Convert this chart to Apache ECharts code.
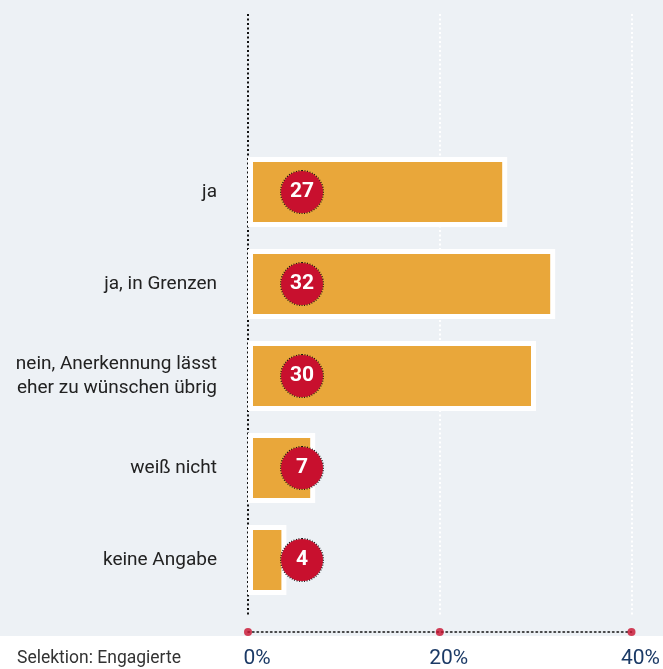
<!DOCTYPE html>
<html>
<head>
<meta charset="utf-8">
<script src="https://cdn.jsdelivr.net/npm/echarts@6/dist/echarts.min.js"></script>
<style>
  html, body { margin: 0; padding: 0; background: #ffffff; }
  #chart { width: 663px; height: 669px; }
</style>
</head>
<body>
<div id="chart"></div>
<script>
// Answer categories, shares in percent and axis ticks
const categories = [
  'ja',
  'ja, in Grenzen',
  'nein, Anerkennung lässt\neher zu wünschen übrig',
  'weiß nicht',
  'keine Angabe'
];
const values = [27, 32, 30, 7, 4];
const tickValues = [0, 20, 40];
const tickLabels = ['0%', '20%', '40%'];
const footnote = 'Selektion: Engagierte';

const FONT = "Roboto, 'Liberation Sans', sans-serif";
const PLOT_LEFT = 248;
const PLOT_WIDTH = 384;

const chart = echarts.init(document.getElementById('chart'), null, { renderer: 'canvas' });

chart.setOption({
  animation: false,
  backgroundColor: '#ffffff',
  textStyle: { fontFamily: FONT },
  title: {
    text: footnote,
    left: 12,
    top: 645,
    textStyle: { fontFamily: FONT, fontSize: 17.5, fontWeight: 'normal', color: '#333333' }
  },
  graphic: [{
    type: 'rect',
    z: -100,
    shape: { x: 0, y: 0, width: 663, height: 636 },
    style: { fill: '#edf1f5' }
  }],
  grid: [
    // bars
    { left: PLOT_LEFT, width: PLOT_WIDTH, top: 146, height: 460 },
    // bottom axis with tick dots
    { left: PLOT_LEFT, width: PLOT_WIDTH, top: 14, height: 620 },
    // vertical dotted guide lines
    { left: PLOT_LEFT, width: PLOT_WIDTH, top: 14, height: 603 }
  ],
  xAxis: [
    { gridIndex: 0, type: 'value', min: 0, max: 40, show: false },
    {
      gridIndex: 1, type: 'value', min: 0, max: 40, interval: 20,
      axisLine: { show: true, lineStyle: { color: '#111111', type: [1.5, 3], width: 1.5 } },
      axisTick: { show: false },
      splitLine: { show: false },
      axisLabel: {
        margin: 16,
        fontSize: 21,
        fontFamily: FONT,
        color: '#1b3a66',
        padding: [0, 0, 0, 18],
        formatter: v => tickLabels[tickValues.indexOf(v)]
      }
    },
    {
      gridIndex: 2, type: 'value', min: 0, max: 40, interval: 20,
      axisLine: { show: false },
      axisTick: { show: false },
      axisLabel: { show: false },
      splitLine: { show: true, lineStyle: { color: ['#111111', '#ffffff', '#ffffff'], type: [2, 2.5], width: 2 } }
    }
  ],
  yAxis: [
    {
      gridIndex: 0, type: 'category', data: categories, inverse: true,
      axisLine: { show: false },
      axisTick: { show: false },
      axisLabel: {
        margin: 31,
        fontSize: 19,
        lineHeight: 24,
        fontFamily: FONT,
        color: '#222222',
        align: 'right',
        padding: [3, 0, 0, 0]
      }
    },
    { gridIndex: 1, type: 'value', min: 0, max: 1, show: false },
    { gridIndex: 2, type: 'value', min: 0, max: 1, show: false }
  ],
  series: [
    {
      type: 'bar',
      xAxisIndex: 0,
      yAxisIndex: 0,
      data: values,
      barWidth: 70,
      itemStyle: { color: '#e9a73a', borderColor: '#ffffff', borderWidth: 5 },
      label: {
        show: true,
        position: [54, '50%'],
        align: 'center',
        verticalAlign: 'middle',
        formatter: '{c}',
        width: 42,
        height: 42,
        lineHeight: 42,
        borderRadius: 21,
        backgroundColor: '#c8102e',
        borderColor: '#111111',
        borderWidth: 1,
        borderType: [1, 1.5],
        color: '#ffffff',
        fontSize: 21,
        fontWeight: 'bold',
        fontFamily: FONT
      },
      z: 3
    },
    {
      type: 'scatter',
      xAxisIndex: 1,
      yAxisIndex: 1,
      data: tickValues.map(v => [v, 0]),
      symbol: 'circle',
      symbolSize: 8,
      clip: false,
      itemStyle: { color: '#c8102e' },
      z: 5
    }
  ]
});
</script>
</body>
</html>
